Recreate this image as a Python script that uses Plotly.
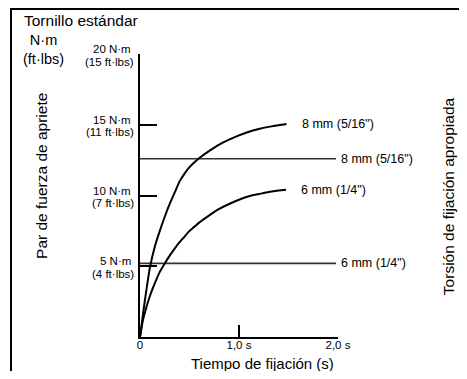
import plotly.graph_objects as go

# Curvas de par de apriete (N·m) vs tiempo de fijación (s)
t_8mm = [0, 0.03, 0.06, 0.1, 0.15, 0.2, 0.25, 0.3, 0.35, 0.4, 0.45, 0.5, 0.55, 0.6,
         0.7, 0.8, 0.9, 1.0, 1.1, 1.2, 1.3, 1.4, 1.48]
par_8mm = [0, 1.6, 3.1, 4.9, 6.4, 7.5, 8.5, 9.4, 10.2, 11.0, 11.55, 12.0, 12.35, 12.65,
           13.15, 13.6, 13.95, 14.25, 14.5, 14.7, 14.85, 14.97, 15.05]

t_6mm = [0, 0.03, 0.06, 0.1, 0.15, 0.2, 0.25, 0.3, 0.35, 0.4, 0.45, 0.5, 0.55, 0.6,
         0.7, 0.8, 0.9, 1.0, 1.1, 1.2, 1.3, 1.4, 1.475]
par_6mm = [0, 1.2, 2.0, 2.9, 3.8, 4.6, 5.2, 5.75, 6.25, 6.7, 7.1, 7.5, 7.8, 8.1,
           8.6, 9.05, 9.4, 9.7, 9.95, 10.1, 10.25, 10.35, 10.4]

curva_labels = ['8 mm (5/16")', '6 mm (1/4")']

# Torsión de fijación apropiada (líneas horizontales)
torsion_vals = [12.6, 5.2]
torsion_labels = ['8 mm (5/16")', '6 mm (1/4")']
torsion_t = [0, 1.98]

# Ejes
y_ticks = [5, 10, 15, 20]
y_nm = ['5 N·m', '10 N·m', '15 N·m', '20 N·m']
y_ftlb = ['(4 ft·lbs)', '(7 ft·lbs)', '(11 ft·lbs)', '(15 ft·lbs)']
x_ticks = [0, 1, 2]
x_labels = ['0', '1,0 s', '2,0 s']

FONT = 'Liberation Sans, Arial, sans-serif'

fig = go.Figure()

for val in torsion_vals:
    fig.add_trace(go.Scatter(
        x=torsion_t, y=[val, val], mode='lines',
        line=dict(color='#333333', width=1.6),
        hoverinfo='skip', cliponaxis=False
    ))

for tt, pp in [(t_8mm, par_8mm), (t_6mm, par_6mm)]:
    fig.add_trace(go.Scatter(
        x=tt, y=pp, mode='lines',
        line=dict(color='black', width=2, shape='spline', smoothing=0.6),
        hoverinfo='skip', cliponaxis=False
    ))

annotations = []

# etiquetas de las curvas
for tt, pp, lab in [(t_8mm, par_8mm, curva_labels[0]), (t_6mm, par_6mm, curva_labels[1])]:
    annotations.append(dict(x=tt[-1], y=pp[-1], text=lab, showarrow=False,
                            xanchor='left', yanchor='middle', xshift=13,
                            font=dict(size=12.5)))

# etiquetas de las líneas de torsión
for val, lab in zip(torsion_vals, torsion_labels):
    annotations.append(dict(x=torsion_t[-1], y=val, text=lab, showarrow=False,
                            xanchor='left', yanchor='middle', xshift=3,
                            font=dict(size=12.5)))

# etiquetas del eje y en dos líneas
for v, a, b in zip(y_ticks, y_nm, y_ftlb):
    annotations.append(dict(xref='paper', x=0, y=v, text=a, showarrow=False,
                            xanchor='right', yanchor='middle', xshift=-7, yshift=5,
                            font=dict(size=11.5)))
    annotations.append(dict(xref='paper', x=0, y=v, text=b, showarrow=False,
                            xanchor='right', yanchor='middle', xshift=-4, yshift=-7.5,
                            font=dict(size=11.5)))

# títulos
annotations += [
    dict(xref='paper', yref='paper', x=-0.596, y=1.12, text='Tornillo estándar',
         showarrow=False, xanchor='left', yanchor='middle', font=dict(size=15.5)),
    dict(xref='paper', yref='paper', x=-0.487, y=1.016, text='N·m<br>(ft·lbs)',
         showarrow=False, xanchor='center', yanchor='middle', font=dict(size=14.5)),
    dict(xref='paper', yref='paper', x=-0.495, y=0.569, text='Par de fuerza de apriete',
         showarrow=False, textangle=-90, xanchor='center', yanchor='middle',
         font=dict(size=15.5)),
    dict(xref='paper', yref='paper', x=1.556, y=0.498, text='Torsión de fijación apropiada',
         showarrow=False, textangle=-90, xanchor='center', yanchor='middle',
         font=dict(size=15.5)),
    dict(xref='paper', yref='paper', x=0.621, y=-0.092, text='Tiempo de fijación (s)',
         showarrow=False, xanchor='center', yanchor='middle', font=dict(size=15)),
]

# la página añade 8 px de margen al cuerpo: la figura se reduce para caber en la ventana
fig.update_layout(
    width=451, height=363,
    margin=dict(l=132, r=121, t=46, b=34),
    paper_bgcolor='white', plot_bgcolor='white',
    showlegend=False,
    font=dict(family=FONT, color='black'),
    annotations=annotations,
    shapes=[dict(type='rect', xref='paper', yref='paper',
                 x0=-0.6515, x1=1.636, y0=-0.3, y1=1.159,
                 line=dict(color='black', width=2))],
    xaxis=dict(range=[0, 2], tickvals=x_ticks, ticktext=x_labels,
               showline=True, linecolor='black', linewidth=1.6,
               ticks='inside', ticklen=12, tickwidth=1.6, tickcolor='black',
               ticklabelstandoff=-4,
               showgrid=False, zeroline=False, tickfont=dict(size=11.5)),
    yaxis=dict(range=[0, 20], tickvals=y_ticks, showticklabels=False,
               showline=True, linecolor='black', linewidth=1.6,
               ticks='inside', ticklen=17, tickwidth=1.6, tickcolor='black',
               showgrid=False, zeroline=False),
)

fig.write_html("out.html")
